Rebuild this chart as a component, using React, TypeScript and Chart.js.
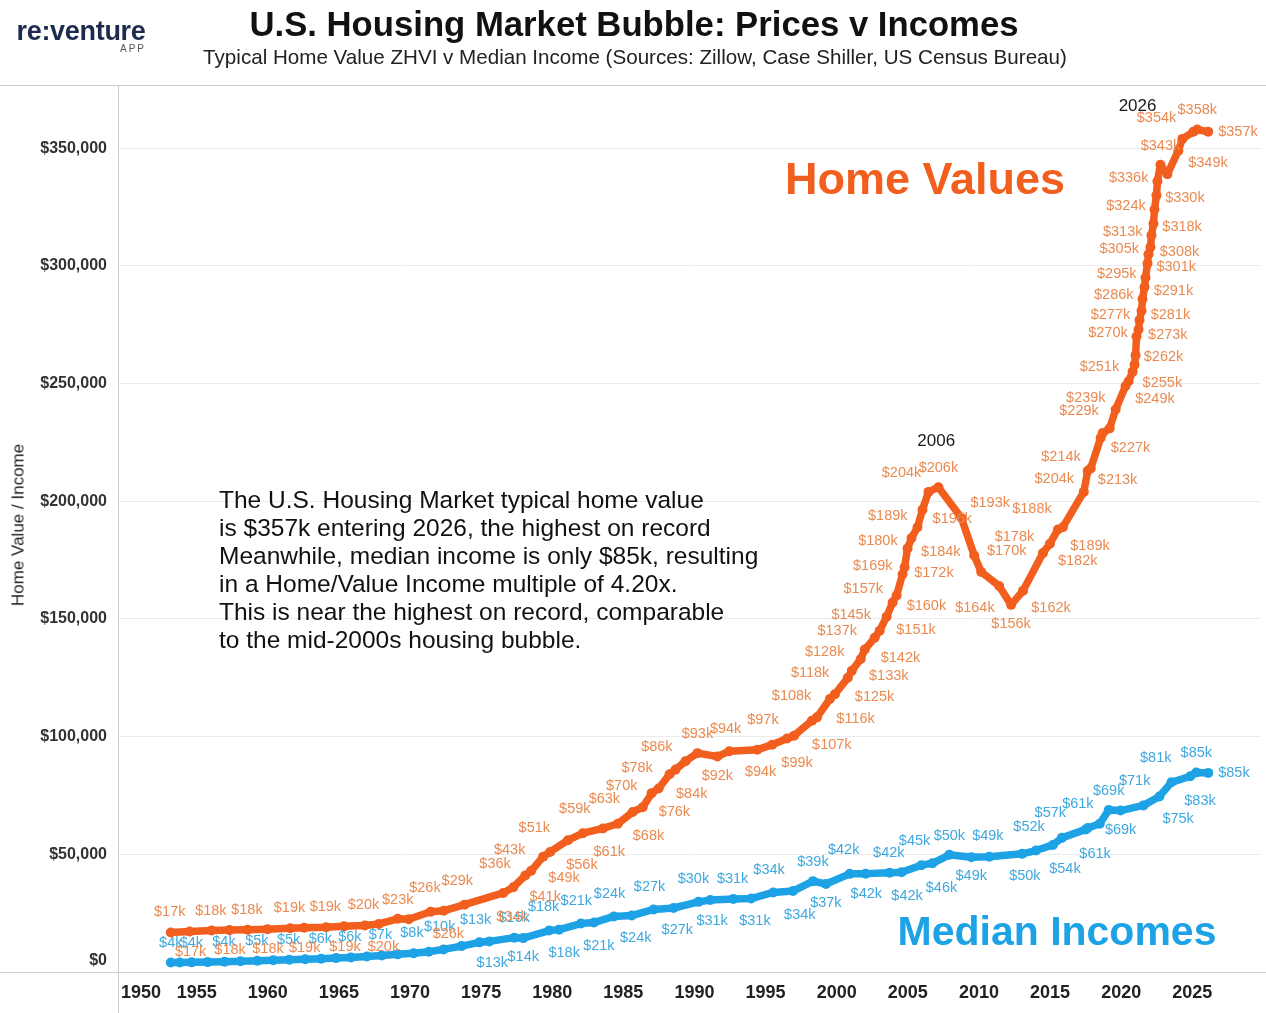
import React, { useEffect, useRef } from "react";
import { Chart, registerables } from "chart.js";

Chart.register(...registerables);

// ---------------- data ----------------
const HOME_YEARS = [
  1953.18, 1954.51, 1956.05, 1957.31, 1958.57, 1959.97, 1961.58, 1962.56, 1964.1, 1965.36,
  1966.83, 1967.81, 1969.14, 1969.91, 1971.45, 1972.36, 1973.83, 1976.56, 1977.26, 1978.1,
  1978.52, 1979.36, 1979.85, 1981.11, 1982.16, 1983.56, 1984.61, 1985.66, 1986.36, 1986.99,
  1987.48, 1988.25, 1988.67, 1989.37, 1990.21, 1991.61, 1992.45, 1994.41, 1995.46, 1996.51,
  1997.0, 1998.26, 1998.61, 1999.52, 1999.87, 2000.78, 2001.06, 2001.69, 2001.97, 2002.67,
  2003.02, 2003.51, 2003.93, 2004.21, 2004.63, 2004.77, 2004.98, 2005.26, 2005.68, 2006.03,
  2006.45, 2007.15, 2008.76, 2009.67, 2010.16, 2011.42, 2012.26, 2013.1, 2014.5, 2014.99,
  2015.55, 2015.9, 2017.37, 2017.65, 2017.86, 2018.56, 2018.7, 2019.19, 2019.61, 2020.31,
  2020.52, 2020.8, 2020.94, 2021.01, 2021.08, 2021.22, 2021.29, 2021.43, 2021.5, 2021.64,
  2021.71, 2021.85, 2021.92, 2022.06, 2022.13, 2022.27, 2022.34, 2022.48, 2022.55, 2022.76,
  2023.25, 2024.02, 2024.3, 2025.07, 2025.35, 2026.12,
];
const HOME_VALUES_K = [
  16.8, 17.2, 17.6, 17.8, 18.0, 18.2, 18.6, 18.8, 19.0, 19.4,
  19.8, 20.4, 22.6, 22.4, 25.6, 26.0, 28.6, 33.6, 36, 41,
  43, 49, 51, 56, 59, 61, 63, 68, 70, 76,
  78, 84, 86, 89.6, 93, 91.6, 93.8, 94.4, 96.6, 99.2,
  100.4, 106.8, 108.2, 116, 118, 125, 128, 133, 137, 142,
  145, 151, 157, 160, 169, 172, 180, 184.4, 189, 196.4,
  204, 206, 193, 177, 170, 164, 156, 162, 178, 182,
  188, 189, 204, 213, 214, 227, 229, 231, 239, 249,
  251, 255, 258, 262, 270, 273, 277, 281, 286, 291,
  295, 301, 305, 308, 313, 318, 324, 330, 336, 343,
  339, 349, 354, 357, 358, 357,
];
const INCOME_YEARS = [
  1953.18, 1953.81, 1954.65, 1955.77, 1956.96, 1958.08, 1959.27, 1960.39, 1961.51, 1962.63,
  1963.75, 1964.8, 1965.85, 1966.97, 1968.02, 1969.14, 1970.26, 1971.31, 1972.36, 1973.62,
  1974.88, 1975.58, 1977.33, 1977.96, 1979.78, 1980.48, 1982.02, 1982.93, 1984.33, 1985.59,
  1987.13, 1988.53, 1990.28, 1991.12, 1992.73, 1993.99, 1995.53, 1996.93, 1998.33, 1999.24,
  2000.92, 2002.04, 2003.72, 2004.56, 2005.96, 2006.73, 2007.92, 2009.46, 2010.72, 2013.03,
  2014.01, 2015.2, 2015.83, 2017.51, 2017.65, 2018.49, 2019.12, 2019.96, 2021.57, 2022.69,
  2023.53, 2024.86, 2025.28, 2026.12,
];
const INCOME_VALUES_K = [
  4.0, 4.0, 4.1, 4.2, 4.4, 4.6, 4.8, 5.0, 5.2, 5.4,
  5.6, 5.9, 6.2, 6.6, 7.0, 7.5, 8.0, 8.6, 9.6, 11.0,
  12.6, 13.0, 14.6, 14.4, 17.6, 18.0, 20.6, 21.0, 23.6, 24.0,
  26.6, 27.2, 29.8, 30.6, 31.0, 31.2, 33.8, 34.4, 38.6, 37.4,
  41.7, 41.8, 42.2, 42.4, 45.4, 46.2, 49.8, 48.8, 49.0, 50.2,
  51.6, 54.0, 57.0, 60.6, 61.2, 63.0, 68.8, 68.6, 70.8, 74.6,
  80.6, 83.2, 84.8, 84.6,
];
const Y_TICKS = [0, 50000, 100000, 150000, 200000, 250000, 300000, 350000];
const X_TICKS = [1950, 1955, 1960, 1965, 1970, 1975, 1980, 1985, 1990, 1995, 2000, 2005, 2010, 2015, 2020, 2025];
const SERIES_NAMES = ["Median Incomes", "Home Values"];
const TITLE = "U.S. Housing Market Bubble: Prices v Incomes";
const SUBTITLE = "Typical Home Value ZHVI v Median Income (Sources: Zillow, Case Shiller, US Census Bureau)";
const Y_TITLE = "Home Value / Income";
const ANNOTATION_LINES = [
  "The U.S. Housing Market typical home value",
  "is $357k entering 2026, the highest on record",
  "Meanwhile, median income is only $85k, resulting",
  "in a Home/Value Income multiple of 4.20x.",
  "This is near the highest on record, comparable",
  "to the mid-2000s housing bubble.",
];
const YEAR_NOTES = [
  { text: "2006", year: 2007.0, value: 225600 },
  { text: "2026", year: 2021.15, value: 368000 },
];

// ---------------- styles ----------------
const W = 1266;
const H = 1013;
const FONT = '"Liberation Sans", Arial, Helvetica, sans-serif';
const HOME_COLOR = "#F25E1D";
const HOME_LABEL_COLOR = "#EA8A50";
const INCOME_COLOR = "#1EA2E6";
const INCOME_LABEL_COLOR = "#3EA8DF";
const LABEL_COLORS = [INCOME_LABEL_COLOR, HOME_LABEL_COLOR];
const LABEL_FONT_PX = 14.5;
const GX = 7;
const GY = 12;

const fmtK = (v: number) => "$" + Math.round(v / 1000) + "k";
const fmtTick = (v: number) => "$" + v.toLocaleString("en-US");

const decorPlugin = {
  id: "decor",
  beforeDatasetsDraw(chart: any) {
    const { ctx, chartArea: a } = chart;
    ctx.save();
    ctx.strokeStyle = "#cccccc";
    ctx.lineWidth = 1;
    ctx.beginPath();
    ctx.moveTo(0, Math.round(a.top) + 0.5);
    ctx.lineTo(W, Math.round(a.top) + 0.5);
    ctx.moveTo(0, Math.round(a.bottom) + 0.5);
    ctx.lineTo(W, Math.round(a.bottom) + 0.5);
    ctx.moveTo(Math.round(a.left) + 0.5, a.top);
    ctx.lineTo(Math.round(a.left) + 0.5, H);
    ctx.stroke();

    const ys = chart.scales.y;
    ctx.font = `bold 16px ${FONT}`;
    ctx.fillStyle = "#333333";
    ctx.textAlign = "right";
    ctx.textBaseline = "middle";
    Y_TICKS.forEach((v) => {
      const py = Math.min(ys.getPixelForValue(v), a.bottom - 11);
      ctx.fillText(fmtTick(v), a.left - 11, py);
    });

    const xs = chart.scales.x;
    ctx.font = `bold 18px ${FONT}`;
    ctx.fillStyle = "#222222";
    ctx.textAlign = "center";
    X_TICKS.forEach((v) => {
      const t = String(v);
      const w = ctx.measureText(t).width;
      const px = Math.max(xs.getPixelForValue(v), a.left + w / 2 + 3);
      ctx.fillText(t, px, a.bottom + 21);
    });
    ctx.restore();
  },
};

const labelPlugin = {
  id: "pointLabels",
  afterDatasetsDraw(chart: any) {
    const { ctx, chartArea: a } = chart;
    ctx.save();
    ctx.font = `${LABEL_FONT_PX}px ${FONT}`;
    ctx.textAlign = "center";
    ctx.textBaseline = "middle";
    const h = LABEL_FONT_PX;
    chart.data.datasets.forEach((ds: any, di: number) => {
      const pts = chart.getDatasetMeta(di).data;
      const vals = ds.data.map((d: any) => d.y);
      const placed: any[] = [];
      ctx.fillStyle = LABEL_COLORS[di];
      const n = pts.length;
      for (let i = 0; i < n; i++) {
        const p = pts[i];
        const text = fmtK(vals[i]);
        const w = ctx.measureText(text).width;
        let cx: number;
        let cy: number;
        if (i === n - 1) {
          cx = p.x + 10 + w / 2;
          cy = p.y;
        } else {
          const pa = pts[Math.max(0, i - 1)];
          const pb = pts[Math.min(n - 1, i + 1)];
          let dx = pb.x - pa.x;
          let dy = pb.y - pa.y;
          const len = Math.hypot(dx, dy) || 1;
          dx /= len;
          dy /= len;
          let nx = dy;
          let ny = -dx;
          let side = i % 2 === 0 ? 1 : -1;
          if (i > 0) {
            if (vals[i] > vals[i - 1] && vals[i] >= vals[i + 1]) {
              nx = 0; ny = -1; side = 1;
            } else if (vals[i] < vals[i - 1] && vals[i] <= vals[i + 1]) {
              nx = 0; ny = -1; side = -1;
            }
          }
          nx *= side;
          ny *= side;
          const k = Math.abs(nx) * (w / 2 + GX) + Math.abs(ny) * (h / 2 + GY);
          cx = p.x + nx * k;
          cy = p.y + ny * k;
        }
        const box = { l: cx - w / 2, r: cx + w / 2, t: cy - h / 2, b: cy + h / 2 };
        if (box.l < a.left || box.r > a.right || box.t < a.top || box.b > a.bottom) continue;
        const hit = placed.some(
          (q) => box.l + 3 < q.r - 3 && box.r - 3 > q.l + 3 && box.t + 2 < q.b - 2 && box.b - 2 > q.t + 2
        );
        if (hit) continue;
        placed.push(box);
        ctx.fillText(text, cx, cy);
      }
    });

    ctx.font = `17px ${FONT}`;
    ctx.fillStyle = "#1a1a1a";
    YEAR_NOTES.forEach((nt) => {
      ctx.fillText(nt.text, chart.scales.x.getPixelForValue(nt.year), chart.scales.y.getPixelForValue(nt.value));
    });
    ctx.restore();
  },
};

export default function App() {
  const ref = useRef<HTMLCanvasElement | null>(null);

  useEffect(() => {
    if (!ref.current) return;
    const mk = (xs: number[], vs: number[]) => xs.map((x, i) => ({ x, y: vs[i] * 1000 }));
    const lineStyle = (c: string) => ({
      borderColor: c,
      backgroundColor: c,
      pointBackgroundColor: c,
      pointBorderColor: c,
      borderWidth: 7.5,
      pointRadius: 5,
      pointBorderWidth: 0,
      tension: 0,
      fill: false,
      borderJoinStyle: "round" as const,
      borderCapStyle: "round" as const,
    });
    const chart = new Chart(ref.current, {
      type: "line",
      data: {
        datasets: [
          { label: SERIES_NAMES[0], data: mk(INCOME_YEARS, INCOME_VALUES_K), ...lineStyle(INCOME_COLOR) },
          { label: SERIES_NAMES[1], data: mk(HOME_YEARS, HOME_VALUES_K), ...lineStyle(HOME_COLOR) },
        ],
      },
      options: {
        responsive: false,
        animation: false,
        devicePixelRatio: 1,
        events: [],
        layout: { padding: { top: 85, left: 0, right: 0, bottom: 0 } },
        plugins: { legend: { display: false }, tooltip: { enabled: false } },
        scales: {
          x: {
            type: "linear",
            min: 1949.47,
            max: 2029.83,
            grid: { display: false },
            border: { display: false },
            ticks: { display: false },
            afterBuildTicks: (s: any) => {
              s.ticks = X_TICKS.map((v) => ({ value: v }));
            },
            afterFit: (s: any) => {
              s.height = 41;
            },
          },
          y: {
            type: "linear",
            min: 0,
            max: 376900,
            grid: { color: "#ebebeb", lineWidth: 1, drawTicks: false },
            border: { display: false },
            ticks: { display: false },
            afterBuildTicks: (s: any) => {
              s.ticks = Y_TICKS.map((v) => ({ value: v }));
            },
            afterFit: (s: any) => {
              s.width = 118;
            },
          },
        },
      } as any,
      plugins: [decorPlugin, labelPlugin],
    });
    return () => chart.destroy();
  }, []);

  const center = (x: number, y: number): React.CSSProperties => ({
    position: "absolute",
    left: x,
    top: y,
    transform: "translate(-50%, -50%)",
    whiteSpace: "nowrap",
    lineHeight: 1,
  });

  return (
    <div style={{ position: "absolute", left: 0, top: 0, width: W, height: H, background: "#fff", overflow: "hidden", fontFamily: FONT }}>
      <canvas ref={ref} width={W} height={H} style={{ position: "absolute", left: 0, top: 0 }} />
      <div style={{ ...center(81, 31), fontSize: 27, fontWeight: 700, color: "#1d2c4c", letterSpacing: -0.3 }}>re:venture</div>
      <div style={{ ...center(133, 49), fontSize: 10, color: "#555", letterSpacing: 2 }}>APP</div>
      <div style={{ ...center(634, 24), fontSize: 34.7, fontWeight: 700, color: "#111" }}>{TITLE}</div>
      <div style={{ ...center(635, 57), fontSize: 20.6, color: "#222" }}>{SUBTITLE}</div>
      <div style={{ ...center(18, 525), fontSize: 17, color: "#222", transform: "translate(-50%, -50%) rotate(-90deg)" }}>{Y_TITLE}</div>
      <div style={{ position: "absolute", left: 219, top: 486, fontSize: 24.5, lineHeight: "28px", color: "#111", whiteSpace: "pre" }}>
        {ANNOTATION_LINES.join("\n")}
      </div>
      <div style={{ ...center(925, 178), fontSize: 45, fontWeight: 700, color: HOME_COLOR }}>{SERIES_NAMES[1]}</div>
      <div style={{ ...center(1057, 931), fontSize: 41, fontWeight: 700, color: INCOME_COLOR }}>{SERIES_NAMES[0]}</div>
    </div>
  );
}
